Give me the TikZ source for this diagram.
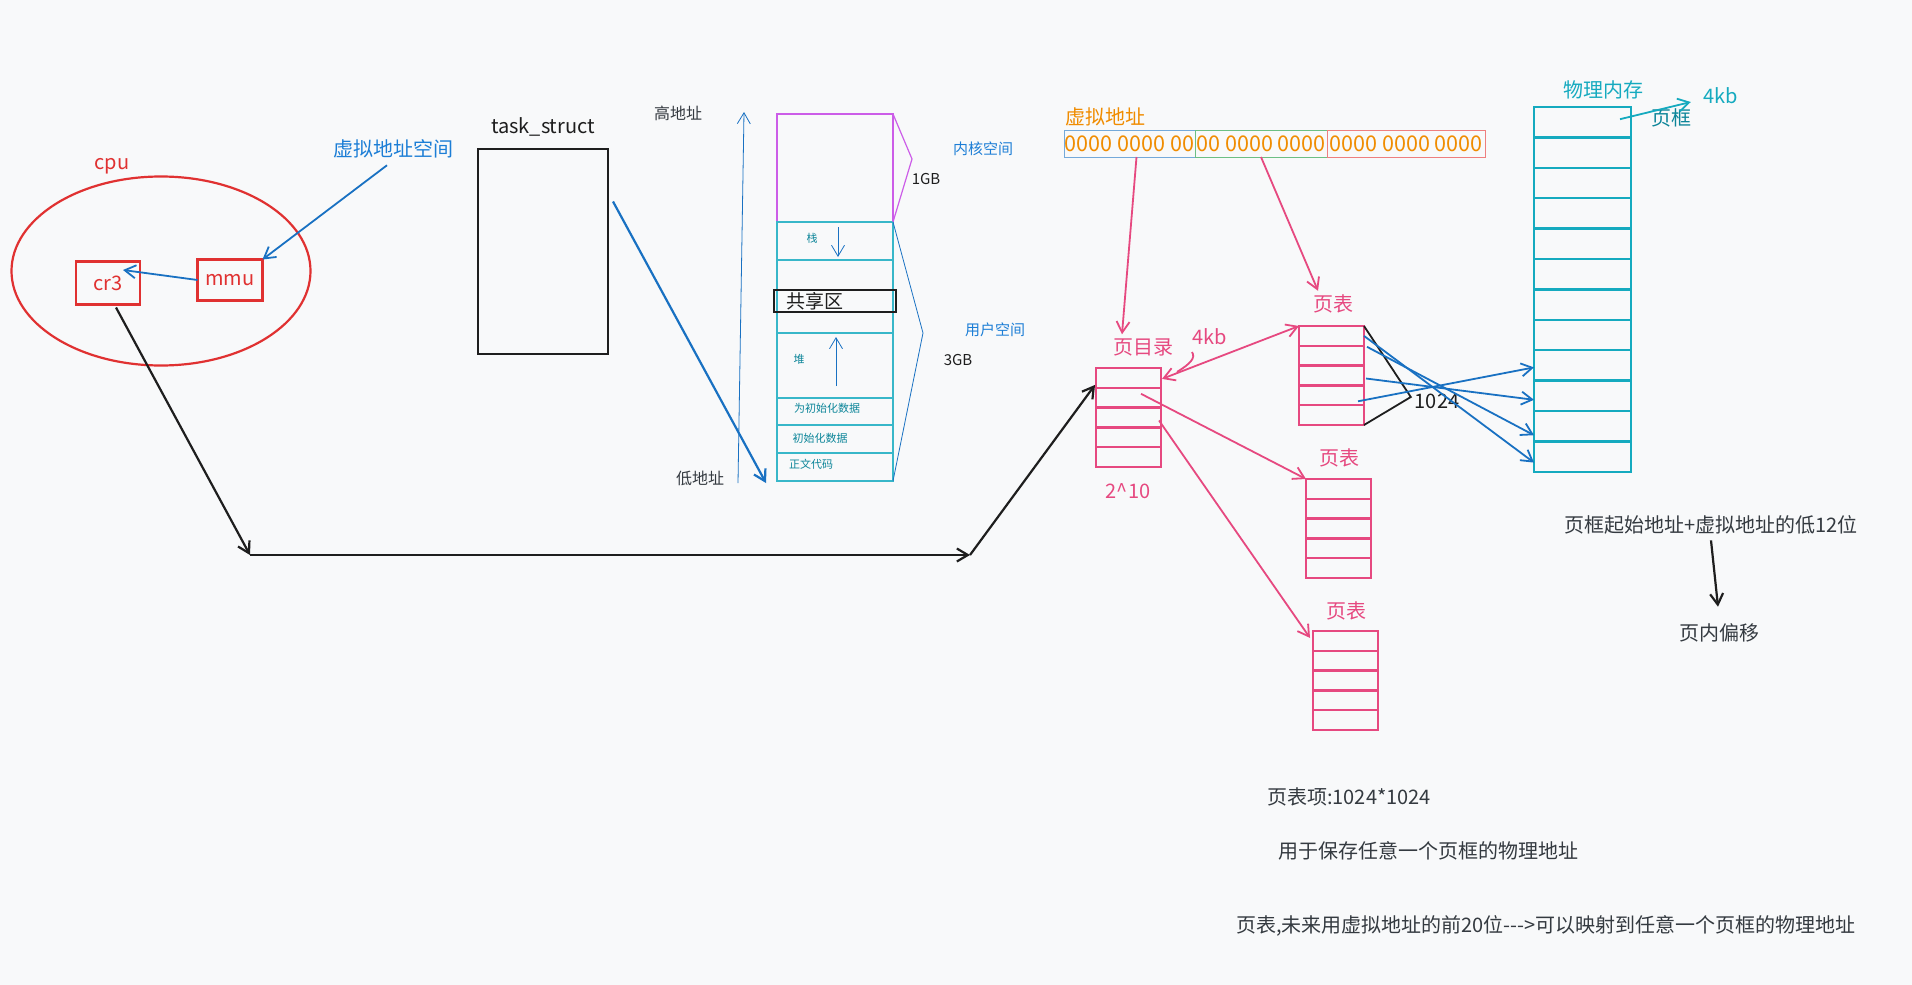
\documentclass[tikz,border=0pt]{standalone}
\usepackage{fontspec}
\setmainfont{Noto Sans CJK SC}[Ligatures=TeXOff]
\usepackage{xcolor}
\usepackage{tikz}
\usetikzlibrary{arrows.meta,positioning,shapes.geometric}
\definecolor{bgcolor}{HTML}{F8F9FA}
\definecolor{cpured}{HTML}{E03131}
\definecolor{lineblue}{HTML}{1971C2}
\definecolor{labelblue}{HTML}{1C7ED6}
\definecolor{tablepink}{HTML}{E64980}
\definecolor{addrorange}{HTML}{F08C00}
\definecolor{memteal}{HTML}{15AABF}
\definecolor{rowteal}{HTML}{0C8599}
\definecolor{kernelpurple}{HTML}{CC5DE8}
\definecolor{inkblack}{HTML}{1E1E1E}
\definecolor{inkgray}{HTML}{343A40}
\definecolor{boxblue}{HTML}{74A9DA}
\definecolor{boxgreen}{HTML}{6CBF84}
\definecolor{boxred}{HTML}{EE7F7F}

\begin{document}
\begin{tikzpicture}[
    x=1pt, y=-1pt,
    >={Straight Barb[length=11pt,width=13pt]},
    every node/.style={inner sep=0pt, outer sep=0pt},
    txt/.style={font=\fontsize{20}{24}\selectfont},
    smalltxt/.style={font=\fontsize{15}{18}\selectfont},
    tinytxt/.style={font=\fontsize{11}{13}\selectfont, text=rowteal},
    redbox/.style={draw=cpured, line width=2.2pt, minimum width=64pt,
                   minimum height=43pt, txt, text=cpured},
    tablerow/.style={draw=tablepink, line width=2.4pt, minimum width=65pt,
                     minimum height=19.8pt, anchor=north west},
    pmrow/.style={draw=memteal, line width=2.4pt, minimum width=97pt,
                  minimum height=30.4pt, anchor=north west},
    vrow/.style={draw=memteal!85, line width=1.2pt, minimum width=116pt,
                 anchor=north west},
    addrbox/.style={font=\fontsize{21.6}{26}\selectfont, text=addrorange,
                    line width=1pt, minimum height=27pt},
    pinkarrow/.style={->, draw=tablepink, line width=1.8pt},
    bluearrow/.style={->, draw=lineblue, line width=1.8pt},
    blackarrow/.style={->, draw=inkblack, line width=2.2pt}
]
\path[use as bounding box, fill=bgcolor] (0,0) rectangle (1912,985);

\node[draw=cpured, line width=2.2pt, ellipse, minimum width=299pt, minimum height=189pt] (cpu) at (161,271) {};
\node[txt, text=cpured] (cpulabel) at (112,166) {cpu};
\node[redbox] (cr3) at (108,283) {cr3};
\node[redbox, minimum width=65pt, minimum height=41pt] (mmu) at (230,280) {mmu};
\node[txt, text=labelblue] (vas) at (393,149) {虚拟地址空间};

\node[draw=inkblack, line width=2.2pt, minimum width=130pt, minimum height=205pt] (ts) at (543,251.5) {};
\node[txt, text=inkblack] (tslabel) at (543,127) {task\_struct};

\node[draw=kernelpurple, line width=1.6pt, minimum width=116pt, minimum height=108pt,
      anchor=north west] (vkernel) at (777,114) {};
\node[vrow, minimum height=38pt] (vstack) at (777,222) {};
\node[vrow, minimum height=73pt] (vgap) at (777,260) {};
\node[vrow, minimum height=65pt] (vheap) at (777,333) {};
\node[vrow, minimum height=27pt] (vbss) at (777,398) {};
\node[vrow, minimum height=28pt] (vdata) at (777,425) {};
\node[vrow, minimum height=28pt] (vtext) at (777,453) {};
\node[tinytxt] (lstack) at (812,238) {栈};
\node[tinytxt] (lheap) at (799,359) {堆};
\node[tinytxt] (lbss) at (827,408) {为初始化数据};
\node[tinytxt] (ldata) at (820,438) {初始化数据};
\node[tinytxt] (ltext) at (811,464) {正文代码};
\node[draw=inkblack, line width=1.6pt, minimum width=122pt, minimum height=22pt] (shared) at (835,301) {};
\node[font=\fontsize{19}{22}\selectfont, text=inkblack, right=12pt of shared.west] (sharedlabel) {共享区};

\node[font=\fontsize{16}{19}\selectfont, text=inkgray] (highaddr) at (678,113) {高地址};
\node[font=\fontsize{16}{19}\selectfont, text=inkgray] (lowaddr) at (700,478) {低地址};
\node[smalltxt, text=inkblack] (gb1) at (926,179) {1GB};
\node[smalltxt, text=labelblue] (kspace) at (983,149) {内核空间};
\node[smalltxt, text=labelblue] (uspace) at (995,330) {用户空间};
\node[smalltxt, text=inkblack] (gb3) at (958,360) {3GB};

\node[txt, text=addrorange] (valabel) at (1105,117) {虚拟地址};
\node[addrbox, draw=boxblue, minimum width=131pt, anchor=north west] (addr1) at (1064,130) {0000 0000 00};
\node[addrbox, draw=boxgreen, minimum width=132pt, right=0pt of addr1] (addr2) {00 0000 0000};
\node[addrbox, draw=boxred, minimum width=158pt, right=0pt of addr2] (addr3) {0000 0000 0000};

\foreach \i in {1,...,5}
    \node[tablerow] (pd-\i) at (1096,{368+19.8*(\i-1)}) {};
\foreach \t/\x/\y in {1/1299/326, 2/1306/479, 3/1313/631}
    \foreach \i in {1,...,5}
        \node[tablerow] (pt\t-\i) at (\x,{\y+19.8*(\i-1)}) {};
\node[txt, text=tablepink] (pdlabel) at (1143,347) {页目录};
\node[txt, text=tablepink] (pdsize) at (1128,491) {2\textasciicircum 10};
\node[txt, text=tablepink] (pdkb) at (1210,337) {4kb};
\node[txt, text=tablepink] (pt1label) at (1333,304) {页表};
\node[txt, text=tablepink] (pt2label) at (1339,458) {页表};
\node[txt, text=tablepink] (pt3label) at (1346,611) {页表};
\node[txt, text=inkblack] (n1024) at (1437,401) {1024};

\foreach \i in {1,...,12}
    \node[pmrow] (pm-\i) at (1534,{107+30.4*(\i-1)}) {};
\node[txt, text=memteal] (pmlabel) at (1603,90) {物理内存};
\node[txt, text=rowteal] (framelabel) at (1671,118) {页框};
\node[txt, text=memteal] (pmkb) at (1721,96) {4kb};

\node[txt, text=inkgray] (offsum) at (1711,525) {页框起始地址+虚拟地址的低12位};
\node[txt, text=inkgray] (offset) at (1719,633) {页内偏移};
\node[txt, text=inkgray] (pte) at (1349,797) {页表项:1024*1024};
\node[txt, text=inkgray] (pteuse) at (1428,851) {用于保存任意一个页框的物理地址};
\node[txt, text=inkgray] (ptnote) at (1546,926) {页表,未来用虚拟地址的前20位--->可以映射到任意一个页框的物理地址};

\coordinate (c1) at (250,555);
\coordinate (c2) at (970,555);
\coordinate (alow) at (738,483);
\coordinate (ahigh) at (744,112);
\coordinate (uvert) at (923,333);

\draw[bluearrow] ([shift={(-6,7)}]vas.south) -- (mmu.north east);
\draw[bluearrow] (mmu.west) -- ([shift={(-17,-13)}]cr3.east);
\draw[blackarrow] ([shift={(8,3)}]cr3.south) -- (c1);
\draw[blackarrow] (c1) -- (c2);
\draw[blackarrow] (c2) -- ([shift={(-1,7)}]pd-1.west);
\draw[bluearrow, line width=2.2pt] ([shift={(5,-50)}]ts.east) -- ([shift={(-11,2)}]vtext.south west);
\draw[->, lineblue, line width=0.8pt] (alow) -- (ahigh);
\draw[->, lineblue, line width=0.8pt] ([shift={(3,5)}]vstack.north) -- ([shift={(3,-3)}]vstack.south);
\draw[->, lineblue, line width=0.8pt] ([shift={(1,-12)}]vheap.south) -- ([shift={(1,4)}]vheap.north);
\draw[kernelpurple, line width=1.2pt] (vkernel.north east) -- ([shift={(19,-9)}]vkernel.east) -- (vkernel.south east);
\draw[lineblue, line width=0.8pt] (vstack.north east) -- (uvert) -- (vtext.south east);

\draw[pinkarrow] ([shift={(7,0)}]addr1.south) -- ([shift={(9,-4)}]pdlabel.north west);
\draw[pinkarrow] (addr2.south) -- ([shift={(5,-4)}]pt1label.north west);
\draw[pinkarrow, <->] ([shift={(1,1)}]pd-1.east) -- (pt1-1.north west);
\draw[tablepink, line width=1.8pt] ([shift={(16,-6)}]pd-1.east) .. controls (1190,364) and (1196,358) .. (1192,352);
\draw[pinkarrow] ([shift={(-20,6)}]pd-2.north east) -- (pt2-1.north west);
\draw[pinkarrow] ([shift={(-2,3)}]pd-3.east) -- ([shift={(-3,-3)}]pt3-1.west);

\draw[inkblack, line width=1.8pt] (pt1-1.north east) -- ([shift={(-4,-4)}]n1024.west) -- (pt1-5.south east);
\draw[bluearrow] (pt1-1.east) -- ([shift={(0,6)}]pm-12.west);
\draw[bluearrow] ([shift={(3,1)}]pt1-1.south east) -- ([shift={(0,9)}]pm-11.west);
\draw[bluearrow] ([shift={(2,3)}]pt1-3.east) -- ([shift={(0,4)}]pm-10.west);
\draw[bluearrow] ([shift={(-6,6)}]pt1-4.east) -- ([shift={(0,2)}]pm-9.west);

\draw[->, memteal, line width=1.8pt] ([shift={(-11,-3)}]pm-1.east) -- ([shift={(-13,6)}]pmkb.west);
\draw[blackarrow] ([shift={(0,6)}]offsum.south) -- ([shift={(-1,-17)}]offset.north);
\end{tikzpicture}
\end{document}
